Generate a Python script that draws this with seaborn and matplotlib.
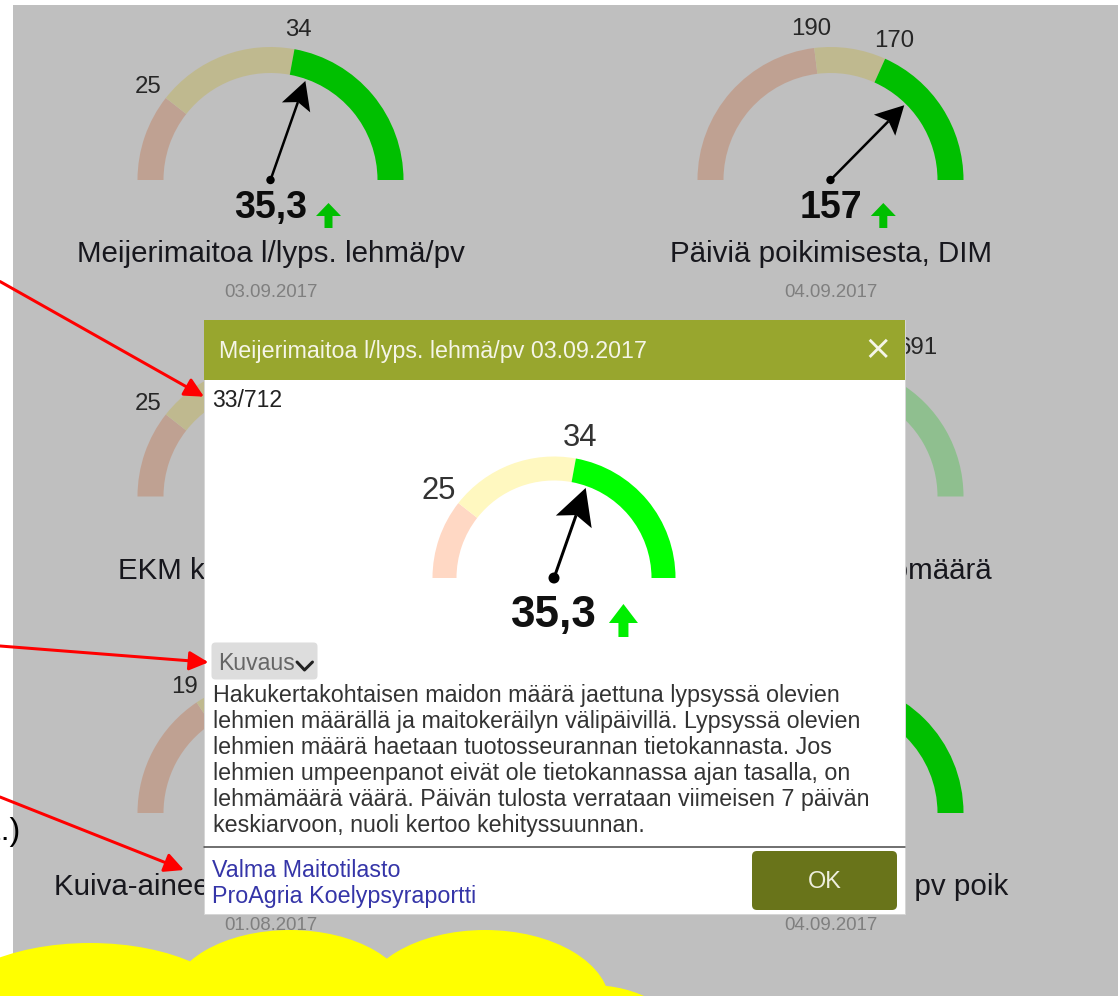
import matplotlib

matplotlib.use("Agg")
import matplotlib.pyplot as plt
import numpy as np
import seaborn as sns
from matplotlib.patches import Circle, Ellipse, FancyBboxPatch, Polygon, Rectangle, Wedge

sns.set_theme(style="white")
plt.rcParams["font.family"] = ["Liberation Sans", "DejaVu Sans"]

W, H = 1118, 996
PT = 0.72  # points per pixel at dpi 100

# ---- values (hidden parts estimated) ----
gauge_titles = [
    "Meijerimaitoa l/lyps. lehmä/pv",
    "Päiviä poikimisesta, DIM",
    "EKM kg/lehmä/pv",
    "Toimitettu maitomäärä",
    "Kuiva-aineen määrä, %",
    "Tiineet yli 100 pv poik",
]
gauge_dates = ["03.09.2017", "04.09.2017", "03.09.2017", "04.09.2017", "01.08.2017", "04.09.2017"]
gauge_values = [35.3, 157, 33.4, 700, 24.0, 45]
gauge_value_labels = ["35,3", "157", "33,4", "700", "24,0", "45"]
gauge_min = [19.5, 128, 19.5, 391, 14, 20]
gauge_max = [45.5, 243, 45.5, 841, 30, 60]
gauge_reversed = [False, True, False, False, False, False]
gauge_limits = [[25, 34], [190, 170], [25, 30], [541, 691], [19, 22], [30, 40]]

dialog_rank = "33/712"
description_lines = [
    "Hakukertakohtaisen maidon määrä jaettuna lypsyssä olevien",
    "lehmien määrällä ja maitokeräilyn välipäivillä. Lypsyssä olevien",
    "lehmien määrä haetaan tuotosseurannan tietokannasta. Jos",
    "lehmien umpeenpanot eivät ole tietokannassa ajan tasalla, on",
    "lehmämäärä väärä. Päivän tulosta verrataan viimeisen 7 päivän",
    "keskiarvoon, nuoli kertoo kehityssuunnan.",
]
link_labels = ["Valma Maitotilasto", "ProAgria Koelypsyraportti"]

# ---- layout ----
col_x = [270.5, 830.5]
row_y = [180, 496.5, 813]
title_anchor = [(270.5, "center"), (830.5, "center"), (118, "left"), (992, "right"), (54, "left"), (1008, "right")]
label_radius = [155, 155, 155, 175, 155, 155]
seg_colors = ["#ffd8c4", "#fff8c0", "#00ff00"]
seg_colors_pale = ["#ffd8c4", "#fff8c0", "#c0ffc0"]
dx0, dy0, dw, dh = 204, 320, 700.5, 594  # dialog box


def to_angle(v, lo, hi, rev):
    frac = (v - lo) / (hi - lo)
    return 180 * frac if rev else 180 * (1 - frac)


def polar(cx, cy, r, a):
    t = np.radians(a)
    return cx + r * np.cos(t), cy - r * np.sin(t)


def text_at(ax, x, yc, s, px, **kw):
    # yc is the visual centre of digits / capitals
    return ax.text(x, yc + 0.36 * px, s, fontsize=px * PT, va="baseline", **kw)


def up_arrow(ax, x0, top, w, h, head_h, stem_w, color, z):
    xm = x0 + w / 2
    pts = [
        (xm, top), (x0 + w, top + head_h), (xm + stem_w / 2, top + head_h),
        (xm + stem_w / 2, top + h), (xm - stem_w / 2, top + h),
        (xm - stem_w / 2, top + head_h), (x0, top + head_h),
    ]
    ax.add_patch(Polygon(pts, closed=True, facecolor=color, edgecolor="none", zorder=z))


def draw_gauge(ax, renderer, cx, cy, i, r_out, r_in, colors, label_r, label_px, value_px, value_dy,
               head_len, head_w, needle_px, dot_r, arrow_box, arrow_gap, arrow_color, z):
    texts = []
    lo, hi, rev = gauge_min[i], gauge_max[i], gauge_reversed[i]
    bounds = [180] + [to_angle(v, lo, hi, rev) for v in gauge_limits[i]] + [0]
    for a1, a2, col in zip(bounds[:-1], bounds[1:], colors):
        ax.add_patch(Wedge((cx, cy), r_out, -a1, -a2, width=r_out - r_in,
                           facecolor=col, edgecolor="none", zorder=z))
    for v in gauge_limits[i]:
        lx, ly = polar(cx, cy, label_r, to_angle(v, lo, hi, rev))
        texts.append(text_at(ax, lx, ly, f"{v}", label_px, ha="center", color="#333333", zorder=z + 1))

    a = np.radians(to_angle(gauge_values[i], lo, hi, rev))
    d = np.array([np.cos(a), -np.sin(a)])
    n = np.array([np.sin(a), np.cos(a)])
    c = np.array([cx, cy])
    tip = c + (r_in - 2) * d
    base = tip - head_len * d
    notch = tip - 0.8 * head_len * d
    ax.plot([cx, notch[0]], [cy, notch[1]], color="black", lw=needle_px * PT,
            solid_capstyle="butt", zorder=z + 2)
    ax.add_patch(Polygon([tip, base + head_w / 2 * n, notch, base - head_w / 2 * n],
                         closed=True, facecolor="black", edgecolor="none", zorder=z + 2))
    ax.add_patch(Circle((cx, cy), dot_r, facecolor="black", edgecolor="none", zorder=z + 3))

    t = ax.text(cx, cy + value_dy, gauge_value_labels[i], ha="center", va="baseline",
                fontsize=value_px * PT, fontweight="bold", color="#111111", zorder=z + 1)
    texts.append(t)
    bb = t.get_window_extent(renderer=renderer)
    right = ax.transData.inverted().transform((bb.x1, bb.y0))[0]
    w, h, head_h, stem_w, top_dy = arrow_box
    up_arrow(ax, right + arrow_gap, cy + value_dy - top_dy, w, h, head_h, stem_w, arrow_color, z + 1)
    return texts


def hidden_by_dialog(ax, renderer, t):
    bb = t.get_window_extent(renderer=renderer)
    (x1, y1), (x2, y2) = ax.transData.inverted().transform([(bb.x0, bb.y0), (bb.x1, bb.y1)])
    return (x1 >= dx0 and x2 <= dx0 + dw and min(y1, y2) >= dy0 and max(y1, y2) <= dy0 + dh)


fig = plt.figure(figsize=(W / 100, H / 100), dpi=100)
fig.patch.set_facecolor("white")
ax = fig.add_axes([0, 0, 1, 1])
ax.set_xlim(0, W)
ax.set_ylim(H, 0)
ax.axis("off")
renderer = fig.canvas.get_renderer()

# ---- background dashboard of six gauges ----
back_texts = []
for i in range(6):
    cx = col_x[i % 2]
    cy = row_y[i // 2]
    colors = seg_colors_pale if i == 3 else seg_colors
    back_texts += draw_gauge(ax, renderer, cx, cy, i, 133, 107, colors, label_radius[i], 24, 37.5, 38,
                             28, 30, 2.5, 4.2, (25, 25, 13, 8, 15), 9, "#00ff00", 1)
    tx, ha = title_anchor[i]
    back_texts.append(ax.text(tx, cy + 82, gauge_titles[i], ha=ha, va="baseline",
                              fontsize=29.5 * PT, color="#202028", zorder=2))
    back_texts.append(ax.text(cx, cy + 116.5, gauge_dates[i], ha="center", va="baseline",
                              fontsize=18.6 * PT, color="#aaaaaa", zorder=2))

# texts fully covered by the dialog are never seen, drop them
for t in back_texts:
    if hidden_by_dialog(ax, renderer, t):
        t.remove()

# modal backdrop
ax.add_patch(Rectangle((12.5, 5), W - 12.5, H - 5, facecolor="black", edgecolor="none",
                       alpha=0.25, zorder=5))

# ---- dialog ----
ax.add_patch(Rectangle((dx0, dy0), dw, dh, facecolor="white", edgecolor="#d6d6d6", lw=0.7, zorder=10))
ax.add_patch(Rectangle((dx0, dy0), dw, 59.5, facecolor="#98a62e", edgecolor="none", zorder=11))
text_at(ax, 218.6, 350, f"{gauge_titles[0]} {gauge_dates[0]}", 23.3, ha="left",
        color="#f5f5e8", zorder=12)
ax.text(878, 350, "×", ha="center", va="center", fontsize=34 * PT, color="#f5f5e8",
        family=["DejaVu Sans"], zorder=12)
text_at(ax, 212, 399, dialog_rank, 23, ha="left", color="#222222", zorder=12)

draw_gauge(ax, renderer, 554, 578, 0, 121.5, 97.5, seg_colors, 146, 31, 44, 49,
           36, 38, 3, 5.5, (29, 33, 19, 10, 23), 12, "#00ee00", 12)

ax.add_patch(FancyBboxPatch((211.5, 642.5), 106, 37, boxstyle="round,pad=0,rounding_size=4",
                            facecolor="#dddddd", edgecolor="none", zorder=12))
ax.text(218.5, 669.5, "Kuvaus", ha="left", va="baseline", fontsize=23 * PT, color="#666666", zorder=13)
ax.plot([297, 304.5, 312.5], [662, 670, 662], color="#222222", lw=3 * PT, zorder=13)

for k, line in enumerate(description_lines):
    ax.text(212.7, 701.7 + 26 * k, line, ha="left", va="baseline", fontsize=23.2 * PT,
            color="#333333", zorder=12)

ax.plot([dx0, dx0 + dw], [847.3, 847.3], color="#444444", lw=1.5 * PT, zorder=12)
for k, link in enumerate(link_labels):
    ax.text(212.5, 876.7 + 26.6 * k, link, ha="left", va="baseline", fontsize=23.2 * PT,
            color="#3535a8", zorder=12)

ax.add_patch(FancyBboxPatch((752, 851), 145, 59, boxstyle="round,pad=0,rounding_size=5",
                            facecolor="#69741a", edgecolor="none", zorder=12))
text_at(ax, 824.5, 880, "OK", 23.5, ha="center", color="#eeeedd", zorder=13)

# ---- annotation layer ----
red_arrows = [((0, 281.5), (204, 396.7)), ((0, 646), (208.5, 662.3)), ((0, 797), (184, 870))]
for start, tip in red_arrows:
    ax.annotate("", xy=tip, xytext=start,
                arrowprops=dict(arrowstyle="-|>", color="#ff0000", lw=3 * PT,
                                mutation_scale=29, shrinkA=0, shrinkB=0),
                zorder=20)
ax.text(21, 840, "1.)", ha="right", va="baseline", fontsize=32 * PT, color="black", zorder=20)

for (ex, ey, ew, eh) in [(90, 1015, 300, 144), (290, 1000, 240, 140), (485, 1005, 250, 150),
                         (590, 1040, 180, 110)]:
    ax.add_patch(Ellipse((ex, ey), ew, eh, facecolor="#ffff00", edgecolor="none", zorder=21))

fig.savefig("out.png", dpi=100)
